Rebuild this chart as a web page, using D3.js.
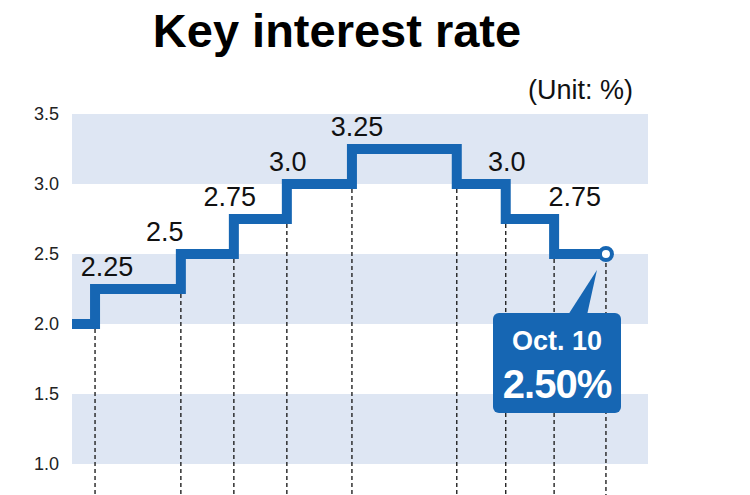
<!DOCTYPE html>
<html>
<head>
<meta charset="utf-8">
<script src="https://cdn.jsdelivr.net/npm/d3@7"></script>
<style>
  html, body { margin: 0; padding: 0; background: #fff; }
  svg { display: block; font-family: "Liberation Sans", Arial, Helvetica, sans-serif; }
</style>
</head>
<body>
<svg id="chart" width="750" height="495"></svg>
<script>
// ---- data ----
const title = "Key interest rate";
const unitLabel = "(Unit: %)";
const yTicks = [1.0, 1.5, 2.0, 2.5, 3.0, 3.5];
const bands = [[3.0, 3.5], [2.0, 2.5], [1.0, 1.5]];
const startRate = 2.0;
// relative position (0-100) of each rate change along the schematic axis
const stepPos = [4.0, 18.9, 28.1, 37.3, 48.6, 66.8, 75.3, 83.7];
const stepRates = [2.25, 2.5, 2.75, 3.0, 3.25, 3.0, 2.75, 2.5];
const stepLabels = ["2.25", "2.5", "2.75", "3.0", "3.25", "3.0", "2.75", null];
const endPos = 92.7;
const endRate = 2.5;
const calloutDate = "Oct. 10";
const calloutValue = "2.50%";

// ---- drawing ----
const svg = d3.select("#chart");
const W = 750, H = 495;
const blue = "#1666b3";

const x = d3.scaleLinear().domain([0, 100]).range([72, 648]);
const y = d3.scaleLinear().domain([1.0, 3.5]).range([464, 114]);

// title
svg.append("text").attr("x", 337).attr("y", 47)
  .attr("text-anchor", "middle").attr("font-size", 47).attr("font-weight", "bold")
  .attr("fill", "#000").text(title);
svg.append("text").attr("x", 633).attr("y", 99)
  .attr("text-anchor", "end").attr("font-size", 27).attr("fill", "#111").text(unitLabel);

// bands
svg.append("g").selectAll("rect").data(bands).join("rect")
  .attr("x", x(0)).attr("width", x(100) - x(0))
  .attr("y", d => y(d[1])).attr("height", d => y(d[0]) - y(d[1]))
  .attr("fill", "#dee6f3");

// y axis
const yAxis = d3.axisLeft(y).tickValues(yTicks).tickFormat(d3.format(".1f")).tickSize(0).tickPadding(0);
const gy = svg.append("g").attr("transform", "translate(59,0)").call(yAxis);
gy.select(".domain").remove();
gy.selectAll("text").attr("font-size", 18).attr("fill", "#222")
  .attr("font-family", "'Liberation Sans', Arial, sans-serif");

// series points
const pts = [{p: 0, r: startRate}]
  .concat(stepPos.map((p, i) => ({p, r: stepRates[i]})))
  .concat([{p: endPos, r: endRate}]);

// dashed drop lines
const drops = stepPos.map((p, i) => ({p, r: Math.min(stepRates[i], i === 0 ? startRate : stepRates[i - 1]), off: 5}))
  .concat([{p: endPos, r: endRate, off: 9}]);
svg.append("g").selectAll("line").data(drops).join("line")
  .attr("x1", d => x(d.p)).attr("x2", d => x(d.p))
  .attr("y1", d => y(d.r) + d.off).attr("y2", H)
  .attr("stroke", "#222").attr("stroke-width", 1.4).attr("stroke-dasharray", "4,3");

// step line
const line = d3.line().x(d => x(d.p)).y(d => y(d.r)).curve(d3.curveStepAfter);
svg.append("path").datum(pts).attr("d", line)
  .attr("fill", "none").attr("stroke", blue).attr("stroke-width", 10)
  .attr("stroke-linejoin", "miter").attr("stroke-linecap", "butt");

// value labels
const labelDx = [12, -16, -4, 1, 5, 50, 69];
svg.append("g").selectAll("text").data(stepLabels.slice(0, 7)).join("text")
  .attr("x", (d, i) => x(stepPos[i]) + labelDx[i])
  .attr("y", (d, i) => y(stepRates[i]) - 13)
  .attr("text-anchor", "middle").attr("font-size", 27).attr("fill", "#111")
  .text(d => d);

// end marker
svg.append("circle").attr("cx", x(endPos)).attr("cy", y(endRate)).attr("r", 6)
  .attr("fill", "#fff").attr("stroke", blue).attr("stroke-width", 4);

// callout
const bx = 493, by = 313, bw = 128, bh = 100;
svg.append("path")
  .attr("d", `M${568},${by + 2} L${x(endPos) - 9},${y(endRate) + 16} L${587},${by + 2} Z`)
  .attr("fill", blue);
svg.append("rect").attr("x", bx).attr("y", by).attr("width", bw).attr("height", bh)
  .attr("rx", 6).attr("fill", blue);
svg.append("text").attr("x", bx + bw / 2).attr("y", by + 37)
  .attr("text-anchor", "middle").attr("font-size", 27).attr("font-weight", "bold")
  .attr("fill", "#fff").text(calloutDate);
svg.append("text").attr("x", bx + bw / 2).attr("y", by + 85)
  .attr("text-anchor", "middle").attr("font-size", 40).attr("font-weight", "bold")
  .attr("letter-spacing", -1).attr("fill", "#fff").text(calloutValue);
</script>
</body>
</html>
